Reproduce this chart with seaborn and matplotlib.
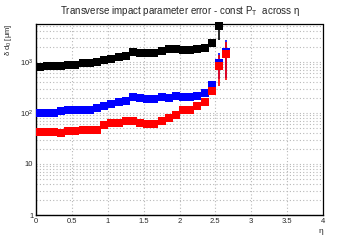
import numpy as np
import pandas as pd
import matplotlib
matplotlib.use("Agg")
import matplotlib.pyplot as plt
import seaborn as sns
from matplotlib.ticker import FixedLocator, FixedFormatter, LogLocator, MultipleLocator, NullFormatter

eta = [0.05, 0.15, 0.25, 0.35, 0.45, 0.55, 0.65, 0.75, 0.85, 0.95,
       1.05, 1.15, 1.25, 1.35, 1.45, 1.55, 1.65, 1.75, 1.85, 1.95,
       2.05, 2.15, 2.25, 2.35, 2.45, 2.55, 2.65]

black_vals = [809, 828, 828, 828, 890, 890, 946, 946, 990, 1070,
              1150, 1240, 1300, 1580, 1500, 1500, 1500, 1660, 1780, 1830,
              1700, 1700, 1780, 1900, 2330, 5100, np.nan]
black_err = [0]*25 + [2400, 0]

blue_vals = [98, 102, 102, 107, 112, 112, 117, 117, 123, 136,
             151, 163, 170, 209, 199, 190, 190, 205, 199, 213,
             205, 205, 213, 246, 359, 970, 1590]
blue_err = [0]*25 + [510, 1110]

red_vals = [43, 43, 43, 41, 44, 44, 45.4, 45.4, 45.4, 57.5,
            63, 63, 69, 71, 64.5, 61.5, 59.6, 69, 80, 92.5,
            112, 116, 136, 163, 272, 842, 1440]
red_err = [0]*25 + [500, 1000]

series = [("black", black_vals, black_err, "#000000"),
          ("blue", blue_vals, blue_err, "#0000ff"),
          ("red", red_vals, red_err, "#ff0000")]

sns.set_style("white")
plt.rcParams['font.family'] = ['Liberation Sans', 'DejaVu Sans']
plt.rcParams['mathtext.fontset'] = 'custom'
plt.rcParams['mathtext.rm'] = 'Liberation Sans'
plt.rcParams['mathtext.it'] = 'Liberation Sans:italic'

fig = plt.figure(figsize=(3.6, 2.4), dpi=100)
ax = fig.add_axes([36/360, 1-215/240, (323-36)/360, (215-24)/240])

for name, vals, err, col in series:
    df = pd.DataFrame({"eta": eta, "val": vals, "err": err})
    ax.errorbar(df["eta"], df["val"], yerr=df["err"], fmt="none", ecolor=col,
                elinewidth=1.2, capsize=0, zorder=2)
    sns.scatterplot(data=df, x="eta", y="val", ax=ax, marker="s", s=34,
                    color=col, linewidth=0, zorder=3, clip_on=False, legend=False)

ax.set_yscale("log")
ax.set_xlim(0, 4)
ax.set_ylim(1, 10**3.745)

ax.xaxis.set_major_locator(MultipleLocator(0.5))
ax.xaxis.set_minor_locator(MultipleLocator(0.1))
ax.xaxis.set_major_formatter(matplotlib.ticker.FuncFormatter(lambda v, p: ("%g" % v)))

ax.yaxis.set_major_locator(FixedLocator([1, 10, 100, 1000]))
ax.yaxis.set_major_formatter(FixedFormatter(["1", "10", r"$10^{2}$", r"$10^{3}$"]))
ax.yaxis.set_minor_locator(LogLocator(base=10, subs=np.arange(2, 10)))
ax.yaxis.set_minor_formatter(NullFormatter())

ax.tick_params(axis="both", which="both", direction="in", labelsize=5.5, color="black",
               top=False, right=False, pad=2)
ax.tick_params(axis="both", which="major", length=5.5, width=0.8)
ax.tick_params(axis="both", which="minor", length=3, width=0.6)

ax.grid(True, which="major", axis="x", color="#b8b8b8", linestyle=(0, (1, 2)), linewidth=0.8)
ax.grid(True, which="both", axis="y", color="#b8b8b8", linestyle=(0, (1, 2)), linewidth=0.8)

for s in ["left", "bottom"]:
    ax.spines[s].set_color("black")
    ax.spines[s].set_linewidth(1.0)
for s in ["top", "right"]:
    ax.spines[s].set_color("black")
    ax.spines[s].set_linewidth(0.9)
    ax.spines[s].set_linestyle((0, (2, 1)))

ax.set_xlabel("η", fontsize=6, loc="right", labelpad=2)
ax.set_ylabel(r"δ d$_{0}$ [μm]", fontsize=5.5, loc="top", labelpad=4)

fig.text(0.5, 1-11/240, r"Transverse impact parameter error - const P$_{\mathrm{T}}$  across η",
         ha="center", va="center", fontsize=7)

fig.savefig("out.png", dpi=100)
